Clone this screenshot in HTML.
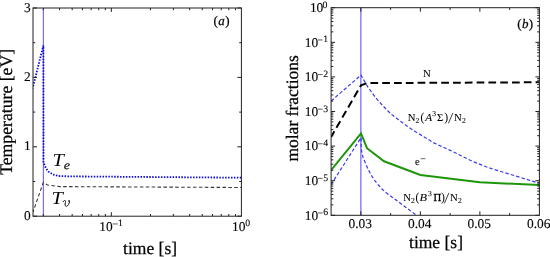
<!DOCTYPE html>
<html><head><meta charset="utf-8"><style>
html,body{margin:0;padding:0;background:#fff;width:550px;height:257px;overflow:hidden}
svg{display:block;text-rendering:geometricPrecision}
text{font-family:"Liberation Serif", serif;fill:#000;stroke:#000;stroke-width:0.25px}
.tk{font-size:13.4px;stroke-width:0.12px}
.sp{font-size:9.8px;stroke-width:0.1px}
.lab{font-size:17.5px}
.pl{font-size:13px}
.T{font-size:18.5px;font-style:italic;stroke-width:0}
.sub{font-size:12px;font-style:italic;stroke-width:0.1px}
.sm{font-size:10.7px;stroke-width:0.1px}
.ss{font-size:7.6px;stroke-width:0.1px}
</style></head><body>
<svg width="550" height="257" viewBox="0 0 550 257"><g style="opacity:0.999">
<defs>
<clipPath id="cl"><rect x="33.0" y="8.0" width="208.4" height="208.2"/></clipPath>
<clipPath id="cr"><rect x="331.1" y="7.7" width="208.29999999999995" height="207.60000000000002"/></clipPath>
</defs>
<!-- left plot data -->
<g clip-path="url(#cl)" fill="none">
<line x1="43.4" y1="8.0" x2="43.4" y2="216.2" stroke="#7b6cff" stroke-width="1.2"/>
<polyline points="33.00,212.00 43.30,182.50 47.50,185.00 60.00,186.60 241.40,187.50" stroke="#3a3a3a" stroke-width="1.1" stroke-dasharray="3.55 2.35" stroke-dashoffset="1.2"/>
<polyline points="32.50,88.80 43.40,45.40 43.50,162.30 45.80,168.00 48.60,171.70 53.00,174.50 58.70,176.00 70.00,176.40 110.00,176.70 241.40,177.70" stroke="#0a0ae0" stroke-width="1.8" stroke-dasharray="1.5 1.42" stroke-dashoffset="0.37"/>
</g>
<!-- right plot data -->
<g clip-path="url(#cr)" fill="none">
<line x1="360.85" y1="7.7" x2="360.85" y2="215.3" stroke="#7b6cff" stroke-width="1.3"/>
<polyline points="331.10,101.00 361.00,75.10 367.60,86.60 375.50,97.50 382.60,105.50 390.50,113.60 406.20,125.60 415.90,132.00 434.30,143.10 453.50,151.90 472.80,161.50 488.60,167.70 539.40,183.30" stroke="#3a3aee" stroke-width="1.2" stroke-dasharray="3.5 2.1"/>
<polyline points="331.10,184.60 361.00,137.70 361.30,149.60 363.00,157.50 365.60,163.60 368.50,170.00 372.00,176.40 375.00,181.00 378.40,185.00 382.00,189.00 385.90,192.50 415.70,214.70 417.00,215.70" stroke="#3a3aee" stroke-width="1.2" stroke-dasharray="3.5 2.1"/>
<polyline points="331.10,170.20 361.00,133.40 367.00,148.20 384.00,161.30 420.40,174.90 479.90,182.30 539.40,185.00" stroke="#1e960a" stroke-width="2"/>
<polyline points="331.10,137.00 361.00,85.20 367.00,83.10 539.40,82.30" stroke="#000" stroke-width="2" stroke-dasharray="7.7 4.1" stroke-dashoffset="1.2"/>
</g>
<!-- axes boxes -->
<rect x="33.0" y="8.0" width="208.4" height="208.2" fill="none" stroke="#222" stroke-width="1.0"/>
<rect x="331.1" y="7.7" width="208.29999999999995" height="207.60000000000002" fill="none" stroke="#222" stroke-width="1.0"/>
<line x1="33.00" y1="216.20" x2="37.00" y2="216.20" stroke="#222" stroke-width="1.0" />
<line x1="241.40" y1="216.20" x2="237.40" y2="216.20" stroke="#222" stroke-width="1.0" />
<line x1="33.00" y1="181.50" x2="35.20" y2="181.50" stroke="#222" stroke-width="1.0" />
<line x1="241.40" y1="181.50" x2="239.20" y2="181.50" stroke="#222" stroke-width="1.0" />
<line x1="33.00" y1="146.80" x2="37.00" y2="146.80" stroke="#222" stroke-width="1.0" />
<line x1="241.40" y1="146.80" x2="237.40" y2="146.80" stroke="#222" stroke-width="1.0" />
<line x1="33.00" y1="112.10" x2="35.20" y2="112.10" stroke="#222" stroke-width="1.0" />
<line x1="241.40" y1="112.10" x2="239.20" y2="112.10" stroke="#222" stroke-width="1.0" />
<line x1="33.00" y1="77.40" x2="37.00" y2="77.40" stroke="#222" stroke-width="1.0" />
<line x1="241.40" y1="77.40" x2="237.40" y2="77.40" stroke="#222" stroke-width="1.0" />
<line x1="33.00" y1="42.70" x2="35.20" y2="42.70" stroke="#222" stroke-width="1.0" />
<line x1="241.40" y1="42.70" x2="239.20" y2="42.70" stroke="#222" stroke-width="1.0" />
<line x1="33.00" y1="8.00" x2="37.00" y2="8.00" stroke="#222" stroke-width="1.0" />
<line x1="241.40" y1="8.00" x2="237.40" y2="8.00" stroke="#222" stroke-width="1.0" />
<line x1="43.30" y1="216.20" x2="43.30" y2="214.00" stroke="#222" stroke-width="1.0" />
<line x1="43.30" y1="8.00" x2="43.30" y2="10.20" stroke="#222" stroke-width="1.0" />
<line x1="59.55" y1="216.20" x2="59.55" y2="214.00" stroke="#222" stroke-width="1.0" />
<line x1="59.55" y1="8.00" x2="59.55" y2="10.20" stroke="#222" stroke-width="1.0" />
<line x1="72.16" y1="216.20" x2="72.16" y2="214.00" stroke="#222" stroke-width="1.0" />
<line x1="72.16" y1="8.00" x2="72.16" y2="10.20" stroke="#222" stroke-width="1.0" />
<line x1="82.46" y1="216.20" x2="82.46" y2="214.00" stroke="#222" stroke-width="1.0" />
<line x1="82.46" y1="8.00" x2="82.46" y2="10.20" stroke="#222" stroke-width="1.0" />
<line x1="91.17" y1="216.20" x2="91.17" y2="214.00" stroke="#222" stroke-width="1.0" />
<line x1="91.17" y1="8.00" x2="91.17" y2="10.20" stroke="#222" stroke-width="1.0" />
<line x1="98.71" y1="216.20" x2="98.71" y2="214.00" stroke="#222" stroke-width="1.0" />
<line x1="98.71" y1="8.00" x2="98.71" y2="10.20" stroke="#222" stroke-width="1.0" />
<line x1="105.37" y1="216.20" x2="105.37" y2="214.00" stroke="#222" stroke-width="1.0" />
<line x1="105.37" y1="8.00" x2="105.37" y2="10.20" stroke="#222" stroke-width="1.0" />
<line x1="111.32" y1="216.20" x2="111.32" y2="212.20" stroke="#222" stroke-width="1.0" />
<line x1="111.32" y1="8.00" x2="111.32" y2="12.00" stroke="#222" stroke-width="1.0" />
<line x1="150.48" y1="216.20" x2="150.48" y2="214.00" stroke="#222" stroke-width="1.0" />
<line x1="150.48" y1="8.00" x2="150.48" y2="10.20" stroke="#222" stroke-width="1.0" />
<line x1="173.38" y1="216.20" x2="173.38" y2="214.00" stroke="#222" stroke-width="1.0" />
<line x1="173.38" y1="8.00" x2="173.38" y2="10.20" stroke="#222" stroke-width="1.0" />
<line x1="189.63" y1="216.20" x2="189.63" y2="214.00" stroke="#222" stroke-width="1.0" />
<line x1="189.63" y1="8.00" x2="189.63" y2="10.20" stroke="#222" stroke-width="1.0" />
<line x1="202.24" y1="216.20" x2="202.24" y2="214.00" stroke="#222" stroke-width="1.0" />
<line x1="202.24" y1="8.00" x2="202.24" y2="10.20" stroke="#222" stroke-width="1.0" />
<line x1="212.54" y1="216.20" x2="212.54" y2="214.00" stroke="#222" stroke-width="1.0" />
<line x1="212.54" y1="8.00" x2="212.54" y2="10.20" stroke="#222" stroke-width="1.0" />
<line x1="221.25" y1="216.20" x2="221.25" y2="214.00" stroke="#222" stroke-width="1.0" />
<line x1="221.25" y1="8.00" x2="221.25" y2="10.20" stroke="#222" stroke-width="1.0" />
<line x1="228.79" y1="216.20" x2="228.79" y2="214.00" stroke="#222" stroke-width="1.0" />
<line x1="228.79" y1="8.00" x2="228.79" y2="10.20" stroke="#222" stroke-width="1.0" />
<line x1="235.45" y1="216.20" x2="235.45" y2="214.00" stroke="#222" stroke-width="1.0" />
<line x1="235.45" y1="8.00" x2="235.45" y2="10.20" stroke="#222" stroke-width="1.0" />
<line x1="331.10" y1="7.70" x2="335.10" y2="7.70" stroke="#222" stroke-width="1.0" />
<line x1="539.40" y1="7.70" x2="535.40" y2="7.70" stroke="#222" stroke-width="1.0" />
<line x1="331.10" y1="31.88" x2="333.30" y2="31.88" stroke="#222" stroke-width="1.0" />
<line x1="539.40" y1="31.88" x2="537.20" y2="31.88" stroke="#222" stroke-width="1.0" />
<line x1="331.10" y1="25.79" x2="333.30" y2="25.79" stroke="#222" stroke-width="1.0" />
<line x1="539.40" y1="25.79" x2="537.20" y2="25.79" stroke="#222" stroke-width="1.0" />
<line x1="331.10" y1="21.47" x2="333.30" y2="21.47" stroke="#222" stroke-width="1.0" />
<line x1="539.40" y1="21.47" x2="537.20" y2="21.47" stroke="#222" stroke-width="1.0" />
<line x1="331.10" y1="18.12" x2="333.30" y2="18.12" stroke="#222" stroke-width="1.0" />
<line x1="539.40" y1="18.12" x2="537.20" y2="18.12" stroke="#222" stroke-width="1.0" />
<line x1="331.10" y1="15.38" x2="333.30" y2="15.38" stroke="#222" stroke-width="1.0" />
<line x1="539.40" y1="15.38" x2="537.20" y2="15.38" stroke="#222" stroke-width="1.0" />
<line x1="331.10" y1="13.06" x2="333.30" y2="13.06" stroke="#222" stroke-width="1.0" />
<line x1="539.40" y1="13.06" x2="537.20" y2="13.06" stroke="#222" stroke-width="1.0" />
<line x1="331.10" y1="11.05" x2="333.30" y2="11.05" stroke="#222" stroke-width="1.0" />
<line x1="539.40" y1="11.05" x2="537.20" y2="11.05" stroke="#222" stroke-width="1.0" />
<line x1="331.10" y1="9.28" x2="333.30" y2="9.28" stroke="#222" stroke-width="1.0" />
<line x1="539.40" y1="9.28" x2="537.20" y2="9.28" stroke="#222" stroke-width="1.0" />
<line x1="331.10" y1="42.30" x2="335.10" y2="42.30" stroke="#222" stroke-width="1.0" />
<line x1="539.40" y1="42.30" x2="535.40" y2="42.30" stroke="#222" stroke-width="1.0" />
<line x1="331.10" y1="66.48" x2="333.30" y2="66.48" stroke="#222" stroke-width="1.0" />
<line x1="539.40" y1="66.48" x2="537.20" y2="66.48" stroke="#222" stroke-width="1.0" />
<line x1="331.10" y1="60.39" x2="333.30" y2="60.39" stroke="#222" stroke-width="1.0" />
<line x1="539.40" y1="60.39" x2="537.20" y2="60.39" stroke="#222" stroke-width="1.0" />
<line x1="331.10" y1="56.07" x2="333.30" y2="56.07" stroke="#222" stroke-width="1.0" />
<line x1="539.40" y1="56.07" x2="537.20" y2="56.07" stroke="#222" stroke-width="1.0" />
<line x1="331.10" y1="52.72" x2="333.30" y2="52.72" stroke="#222" stroke-width="1.0" />
<line x1="539.40" y1="52.72" x2="537.20" y2="52.72" stroke="#222" stroke-width="1.0" />
<line x1="331.10" y1="49.98" x2="333.30" y2="49.98" stroke="#222" stroke-width="1.0" />
<line x1="539.40" y1="49.98" x2="537.20" y2="49.98" stroke="#222" stroke-width="1.0" />
<line x1="331.10" y1="47.66" x2="333.30" y2="47.66" stroke="#222" stroke-width="1.0" />
<line x1="539.40" y1="47.66" x2="537.20" y2="47.66" stroke="#222" stroke-width="1.0" />
<line x1="331.10" y1="45.65" x2="333.30" y2="45.65" stroke="#222" stroke-width="1.0" />
<line x1="539.40" y1="45.65" x2="537.20" y2="45.65" stroke="#222" stroke-width="1.0" />
<line x1="331.10" y1="43.88" x2="333.30" y2="43.88" stroke="#222" stroke-width="1.0" />
<line x1="539.40" y1="43.88" x2="537.20" y2="43.88" stroke="#222" stroke-width="1.0" />
<line x1="331.10" y1="76.90" x2="335.10" y2="76.90" stroke="#222" stroke-width="1.0" />
<line x1="539.40" y1="76.90" x2="535.40" y2="76.90" stroke="#222" stroke-width="1.0" />
<line x1="331.10" y1="101.08" x2="333.30" y2="101.08" stroke="#222" stroke-width="1.0" />
<line x1="539.40" y1="101.08" x2="537.20" y2="101.08" stroke="#222" stroke-width="1.0" />
<line x1="331.10" y1="94.99" x2="333.30" y2="94.99" stroke="#222" stroke-width="1.0" />
<line x1="539.40" y1="94.99" x2="537.20" y2="94.99" stroke="#222" stroke-width="1.0" />
<line x1="331.10" y1="90.67" x2="333.30" y2="90.67" stroke="#222" stroke-width="1.0" />
<line x1="539.40" y1="90.67" x2="537.20" y2="90.67" stroke="#222" stroke-width="1.0" />
<line x1="331.10" y1="87.32" x2="333.30" y2="87.32" stroke="#222" stroke-width="1.0" />
<line x1="539.40" y1="87.32" x2="537.20" y2="87.32" stroke="#222" stroke-width="1.0" />
<line x1="331.10" y1="84.58" x2="333.30" y2="84.58" stroke="#222" stroke-width="1.0" />
<line x1="539.40" y1="84.58" x2="537.20" y2="84.58" stroke="#222" stroke-width="1.0" />
<line x1="331.10" y1="82.26" x2="333.30" y2="82.26" stroke="#222" stroke-width="1.0" />
<line x1="539.40" y1="82.26" x2="537.20" y2="82.26" stroke="#222" stroke-width="1.0" />
<line x1="331.10" y1="80.25" x2="333.30" y2="80.25" stroke="#222" stroke-width="1.0" />
<line x1="539.40" y1="80.25" x2="537.20" y2="80.25" stroke="#222" stroke-width="1.0" />
<line x1="331.10" y1="78.48" x2="333.30" y2="78.48" stroke="#222" stroke-width="1.0" />
<line x1="539.40" y1="78.48" x2="537.20" y2="78.48" stroke="#222" stroke-width="1.0" />
<line x1="331.10" y1="111.50" x2="335.10" y2="111.50" stroke="#222" stroke-width="1.0" />
<line x1="539.40" y1="111.50" x2="535.40" y2="111.50" stroke="#222" stroke-width="1.0" />
<line x1="331.10" y1="135.68" x2="333.30" y2="135.68" stroke="#222" stroke-width="1.0" />
<line x1="539.40" y1="135.68" x2="537.20" y2="135.68" stroke="#222" stroke-width="1.0" />
<line x1="331.10" y1="129.59" x2="333.30" y2="129.59" stroke="#222" stroke-width="1.0" />
<line x1="539.40" y1="129.59" x2="537.20" y2="129.59" stroke="#222" stroke-width="1.0" />
<line x1="331.10" y1="125.27" x2="333.30" y2="125.27" stroke="#222" stroke-width="1.0" />
<line x1="539.40" y1="125.27" x2="537.20" y2="125.27" stroke="#222" stroke-width="1.0" />
<line x1="331.10" y1="121.92" x2="333.30" y2="121.92" stroke="#222" stroke-width="1.0" />
<line x1="539.40" y1="121.92" x2="537.20" y2="121.92" stroke="#222" stroke-width="1.0" />
<line x1="331.10" y1="119.18" x2="333.30" y2="119.18" stroke="#222" stroke-width="1.0" />
<line x1="539.40" y1="119.18" x2="537.20" y2="119.18" stroke="#222" stroke-width="1.0" />
<line x1="331.10" y1="116.86" x2="333.30" y2="116.86" stroke="#222" stroke-width="1.0" />
<line x1="539.40" y1="116.86" x2="537.20" y2="116.86" stroke="#222" stroke-width="1.0" />
<line x1="331.10" y1="114.85" x2="333.30" y2="114.85" stroke="#222" stroke-width="1.0" />
<line x1="539.40" y1="114.85" x2="537.20" y2="114.85" stroke="#222" stroke-width="1.0" />
<line x1="331.10" y1="113.08" x2="333.30" y2="113.08" stroke="#222" stroke-width="1.0" />
<line x1="539.40" y1="113.08" x2="537.20" y2="113.08" stroke="#222" stroke-width="1.0" />
<line x1="331.10" y1="146.10" x2="335.10" y2="146.10" stroke="#222" stroke-width="1.0" />
<line x1="539.40" y1="146.10" x2="535.40" y2="146.10" stroke="#222" stroke-width="1.0" />
<line x1="331.10" y1="170.28" x2="333.30" y2="170.28" stroke="#222" stroke-width="1.0" />
<line x1="539.40" y1="170.28" x2="537.20" y2="170.28" stroke="#222" stroke-width="1.0" />
<line x1="331.10" y1="164.19" x2="333.30" y2="164.19" stroke="#222" stroke-width="1.0" />
<line x1="539.40" y1="164.19" x2="537.20" y2="164.19" stroke="#222" stroke-width="1.0" />
<line x1="331.10" y1="159.87" x2="333.30" y2="159.87" stroke="#222" stroke-width="1.0" />
<line x1="539.40" y1="159.87" x2="537.20" y2="159.87" stroke="#222" stroke-width="1.0" />
<line x1="331.10" y1="156.52" x2="333.30" y2="156.52" stroke="#222" stroke-width="1.0" />
<line x1="539.40" y1="156.52" x2="537.20" y2="156.52" stroke="#222" stroke-width="1.0" />
<line x1="331.10" y1="153.78" x2="333.30" y2="153.78" stroke="#222" stroke-width="1.0" />
<line x1="539.40" y1="153.78" x2="537.20" y2="153.78" stroke="#222" stroke-width="1.0" />
<line x1="331.10" y1="151.46" x2="333.30" y2="151.46" stroke="#222" stroke-width="1.0" />
<line x1="539.40" y1="151.46" x2="537.20" y2="151.46" stroke="#222" stroke-width="1.0" />
<line x1="331.10" y1="149.45" x2="333.30" y2="149.45" stroke="#222" stroke-width="1.0" />
<line x1="539.40" y1="149.45" x2="537.20" y2="149.45" stroke="#222" stroke-width="1.0" />
<line x1="331.10" y1="147.68" x2="333.30" y2="147.68" stroke="#222" stroke-width="1.0" />
<line x1="539.40" y1="147.68" x2="537.20" y2="147.68" stroke="#222" stroke-width="1.0" />
<line x1="331.10" y1="180.70" x2="335.10" y2="180.70" stroke="#222" stroke-width="1.0" />
<line x1="539.40" y1="180.70" x2="535.40" y2="180.70" stroke="#222" stroke-width="1.0" />
<line x1="331.10" y1="204.88" x2="333.30" y2="204.88" stroke="#222" stroke-width="1.0" />
<line x1="539.40" y1="204.88" x2="537.20" y2="204.88" stroke="#222" stroke-width="1.0" />
<line x1="331.10" y1="198.79" x2="333.30" y2="198.79" stroke="#222" stroke-width="1.0" />
<line x1="539.40" y1="198.79" x2="537.20" y2="198.79" stroke="#222" stroke-width="1.0" />
<line x1="331.10" y1="194.47" x2="333.30" y2="194.47" stroke="#222" stroke-width="1.0" />
<line x1="539.40" y1="194.47" x2="537.20" y2="194.47" stroke="#222" stroke-width="1.0" />
<line x1="331.10" y1="191.12" x2="333.30" y2="191.12" stroke="#222" stroke-width="1.0" />
<line x1="539.40" y1="191.12" x2="537.20" y2="191.12" stroke="#222" stroke-width="1.0" />
<line x1="331.10" y1="188.38" x2="333.30" y2="188.38" stroke="#222" stroke-width="1.0" />
<line x1="539.40" y1="188.38" x2="537.20" y2="188.38" stroke="#222" stroke-width="1.0" />
<line x1="331.10" y1="186.06" x2="333.30" y2="186.06" stroke="#222" stroke-width="1.0" />
<line x1="539.40" y1="186.06" x2="537.20" y2="186.06" stroke="#222" stroke-width="1.0" />
<line x1="331.10" y1="184.05" x2="333.30" y2="184.05" stroke="#222" stroke-width="1.0" />
<line x1="539.40" y1="184.05" x2="537.20" y2="184.05" stroke="#222" stroke-width="1.0" />
<line x1="331.10" y1="182.28" x2="333.30" y2="182.28" stroke="#222" stroke-width="1.0" />
<line x1="539.40" y1="182.28" x2="537.20" y2="182.28" stroke="#222" stroke-width="1.0" />
<line x1="331.10" y1="215.30" x2="335.10" y2="215.30" stroke="#222" stroke-width="1.0" />
<line x1="539.40" y1="215.30" x2="535.40" y2="215.30" stroke="#222" stroke-width="1.0" />
<line x1="360.86" y1="215.30" x2="360.86" y2="211.30" stroke="#222" stroke-width="1.0" />
<line x1="360.86" y1="7.70" x2="360.86" y2="11.70" stroke="#222" stroke-width="1.0" />
<line x1="420.37" y1="215.30" x2="420.37" y2="211.30" stroke="#222" stroke-width="1.0" />
<line x1="420.37" y1="7.70" x2="420.37" y2="11.70" stroke="#222" stroke-width="1.0" />
<line x1="479.89" y1="215.30" x2="479.89" y2="211.30" stroke="#222" stroke-width="1.0" />
<line x1="479.89" y1="7.70" x2="479.89" y2="11.70" stroke="#222" stroke-width="1.0" />
<line x1="390.61" y1="215.30" x2="390.61" y2="213.10" stroke="#222" stroke-width="1.0" />
<line x1="390.61" y1="7.70" x2="390.61" y2="9.90" stroke="#222" stroke-width="1.0" />
<line x1="450.13" y1="215.30" x2="450.13" y2="213.10" stroke="#222" stroke-width="1.0" />
<line x1="450.13" y1="7.70" x2="450.13" y2="9.90" stroke="#222" stroke-width="1.0" />
<line x1="509.64" y1="215.30" x2="509.64" y2="213.10" stroke="#222" stroke-width="1.0" />
<line x1="509.64" y1="7.70" x2="509.64" y2="9.90" stroke="#222" stroke-width="1.0" />
<!-- left tick labels -->
<text class="tk" x="30.7" y="11.5" text-anchor="end">3</text>
<text class="tk" x="30.7" y="80.9" text-anchor="end">2</text>
<text class="tk" x="30.7" y="150.3" text-anchor="end">1</text>
<text class="tk" x="30.7" y="219.7" text-anchor="end">0</text>
<text class="tk" x="99.3" y="230.6">10</text><line x1="112.6" y1="223.95" x2="117.8" y2="223.95" stroke="#000" stroke-width="0.65"/><text class="sp" x="118.1" y="226.4">1</text>
<text class="tk" x="232.0" y="230.6">10</text><text class="sp" x="245.2" y="226.4">0</text>
<text class="lab" x="150.1" y="254.2" text-anchor="middle">time [s]</text>
<text class="lab" style="font-size:17.7px" transform="translate(12.2,111.9) rotate(-90)" text-anchor="middle">Temperature [eV]</text>
<text class="pl" x="213.6" y="25.1" letter-spacing="0.4">(<tspan font-style="italic">a</tspan>)</text>
<text class="T" transform="translate(52.5,166.4) scale(1.1,1)">T</text>
<text class="sub" transform="translate(63.7,169.1) scale(1.2,1)">e</text>
<text class="T" transform="translate(51.6,203.6) scale(1.1,1)">T</text>
<path d="M63.2,201.8 C63.6,200.6 64.6,200.2 65.2,200.6 C65.7,201 65.6,201.8 65.4,202.6 C65.1,203.6 64.9,204.4 65.1,205.2 C65.3,206.1 66.1,206.5 66.8,206.2 C68.2,205.6 69.4,203.4 69.5,201.6 C69.6,200.8 69.2,200.3 68.9,200.5" fill="none" stroke="#000" stroke-width="0.95" stroke-linecap="round"/><circle cx="69.0" cy="201.0" r="0.65" fill="#000"/>
<!-- right tick labels -->
<text class="tk" x="309.9" y="12.00">10</text><text class="sp" x="322.6" y="7.80">0</text>
<text class="tk" x="304.7" y="46.60">10</text><line x1="317.9" y1="39.95" x2="322.6" y2="39.95" stroke="#000" stroke-width="0.65"/><text class="sp" x="323.25" y="42.40">1</text>
<text class="tk" x="304.7" y="81.20">10</text><line x1="317.9" y1="74.55" x2="322.6" y2="74.55" stroke="#000" stroke-width="0.65"/><text class="sp" x="323.25" y="77.00">2</text>
<text class="tk" x="304.7" y="115.80">10</text><line x1="317.9" y1="109.15" x2="322.6" y2="109.15" stroke="#000" stroke-width="0.65"/><text class="sp" x="323.25" y="111.60">3</text>
<text class="tk" x="304.7" y="150.40">10</text><line x1="317.9" y1="143.75" x2="322.6" y2="143.75" stroke="#000" stroke-width="0.65"/><text class="sp" x="323.25" y="146.20">4</text>
<text class="tk" x="304.7" y="185.00">10</text><line x1="317.9" y1="178.35" x2="322.6" y2="178.35" stroke="#000" stroke-width="0.65"/><text class="sp" x="323.25" y="180.80">5</text>
<text class="tk" x="304.7" y="219.60">10</text><line x1="317.9" y1="212.95" x2="322.6" y2="212.95" stroke="#000" stroke-width="0.65"/><text class="sp" x="323.25" y="215.40">6</text>
<text class="tk" x="360.2" y="227.6" text-anchor="middle">0.03</text>
<text class="tk" x="419.7" y="227.6" text-anchor="middle">0.04</text>
<text class="tk" x="479.2" y="227.6" text-anchor="middle">0.05</text>
<text class="tk" x="538.7" y="227.6" text-anchor="middle">0.06</text>
<text class="lab" x="436" y="247.6" text-anchor="middle">time [s]</text>
<text class="lab" transform="translate(298.2,108.4) rotate(-90)" text-anchor="middle">molar fractions</text>
<text class="pl" x="517.2" y="28" letter-spacing="0.4">(<tspan font-style="italic">b</tspan>)</text>
<text class="sm" x="423" y="76.9">N</text>
<text class="sm" x="407.8 437.1 453.9" y="120.8">NΣN</text><text class="sm" font-style="italic" transform="translate(425.2,120.8) scale(1.05,1)">A</text>
<text class="sm" transform="translate(420.6,120.8) scale(1,1.13)">(</text><text class="sm" transform="translate(444.6,120.8) scale(1,1.13)">)</text>
<line x1="448.4" y1="123.4" x2="452.9" y2="112.9" stroke="#000" stroke-width="0.75"/>
<text class="ss" x="415.6" y="122.6">2</text><text class="ss" x="432.2" y="115.8">3</text><text class="ss" x="462.1" y="122.6">2</text>
<text class="sm" x="403.2 449.9" y="200.8">NN</text><text class="sm" font-style="italic" transform="translate(419.6,200.8) scale(1.15,1)">B</text><text class="sm" style="stroke-width:0.3px" x="433.5" y="200.8">Π</text>
<text class="sm" transform="translate(415.6,200.8) scale(1,1.13)">(</text><text class="sm" transform="translate(441.3,200.8) scale(1,1.13)">)</text>
<line x1="444.4" y1="203.4" x2="448.9" y2="192.9" stroke="#000" stroke-width="0.75"/>
<text class="ss" x="411.0" y="202.6">2</text><text class="ss" x="428.0" y="196.2">3</text><text class="ss" x="458.1" y="202.6">2</text>
<text class="sm" x="414.9" y="165.3">e</text>
<line x1="420.7" y1="158.7" x2="425.4" y2="158.7" stroke="#000" stroke-width="0.6"/>
</g></svg>
</body></html>
